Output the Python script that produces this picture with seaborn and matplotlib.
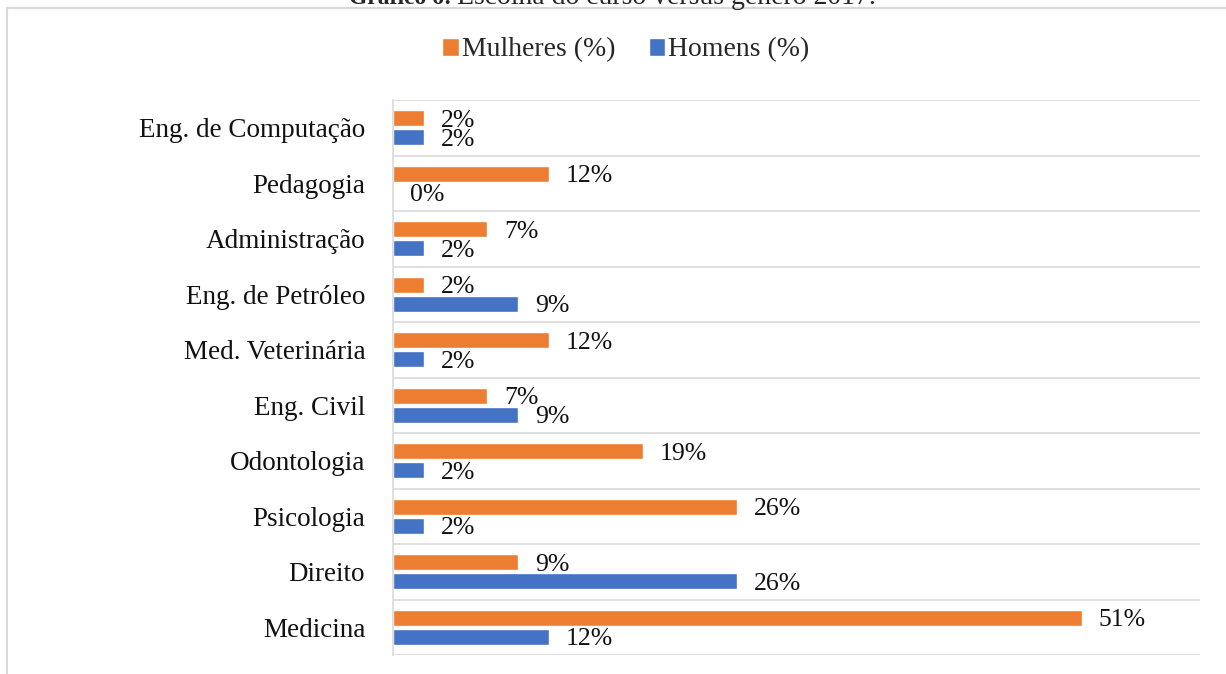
import pandas as pd
import matplotlib.pyplot as plt
import seaborn as sns
from matplotlib.patches import Rectangle

cursos = ['Eng. de Computação', 'Pedagogia', 'Administração', 'Eng. de Petróleo',
          'Med. Veterinária', 'Eng. Civil', 'Odontologia', 'Psicologia', 'Direito', 'Medicina']
mulheres = [2.3, 11.6, 7.0, 2.3, 11.6, 7.0, 18.6, 25.6, 9.3, 51.2]
homens = [2.3, 0.0, 2.3, 9.3, 2.3, 9.3, 2.3, 2.3, 25.6, 11.6]
series = ['Mulheres (%)', 'Homens (%)']
cores = ['#ED7D31', '#4472C4']

df = pd.DataFrame({
    'curso': cursos * 2,
    'valor': mulheres + homens,
    'serie': [series[0]] * len(cursos) + [series[1]] * len(cursos),
})

sns.set_theme(style='white')
plt.rcParams['font.family'] = ['Liberation Serif', 'DejaVu Serif']

fig = plt.figure(figsize=(12.26, 6.74), dpi=100)
ax = fig.add_axes([393 / 1226, 1 - 655 / 674, (1200 - 393) / 1226, (655 - 100) / 674])

sns.barplot(data=df, y='curso', x='valor', hue='serie', hue_order=series,
            palette=cores, order=cursos, orient='h', width=0.69, gap=0.16,
            saturation=1, ax=ax)

# rótulos de dados (um pouco abaixo do centro da barra)
for cont in ax.containers:
    txts = ax.bar_label(cont, labels=[f'{v.get_width():.0f}%' for v in cont],
                        padding=12, fontsize=18.5, color='#111111')
    for t in txts:
        t.set_verticalalignment('center_baseline')

ax.set_xlim(0, 60)
ax.set_ylim(len(cursos) - 0.5, -0.5)
ax.set_xlabel('')
ax.set_ylabel('')
ax.set_xticks([])
ax.tick_params(axis='y', length=0, pad=20, labelsize=19.5, labelcolor='#111111')
ax.set_yticks([i - 0.5 for i in range(len(cursos) + 1)], minor=True)
ax.grid(True, axis='y', which='minor', color='#D9D9D9', linewidth=1.2)
for s in ['top', 'right', 'bottom']:
    ax.spines[s].set_visible(False)
ax.spines['left'].set_color('#D9D9D9')
ax.spines['left'].set_linewidth(1.2)

ax.legend(loc='center', bbox_to_anchor=(0.5105, 1 - 50 / 674), bbox_transform=fig.transFigure,
          ncol=2, frameon=False, fontsize=20, handlelength=0.6, handleheight=0.6,
          handletextpad=0.1, columnspacing=1.2)

# moldura externa
fig.patches.append(Rectangle((7 / 1226, -0.1), 1.2, 1.1 - 8 / 674, transform=fig.transFigure,
                             fill=False, edgecolor='#D9D9D9', linewidth=1.5))

fig.text(452 / 1226, 1 - 4 / 674, 'Gráfico 6:', ha='right', va='baseline',
         fontsize=17, fontweight='bold')
fig.text(457 / 1226, 1 - 4 / 674, 'Escolha do curso versus gênero 2017.', ha='left',
         va='baseline', fontsize=20)

fig.savefig('out.png', dpi=100)
